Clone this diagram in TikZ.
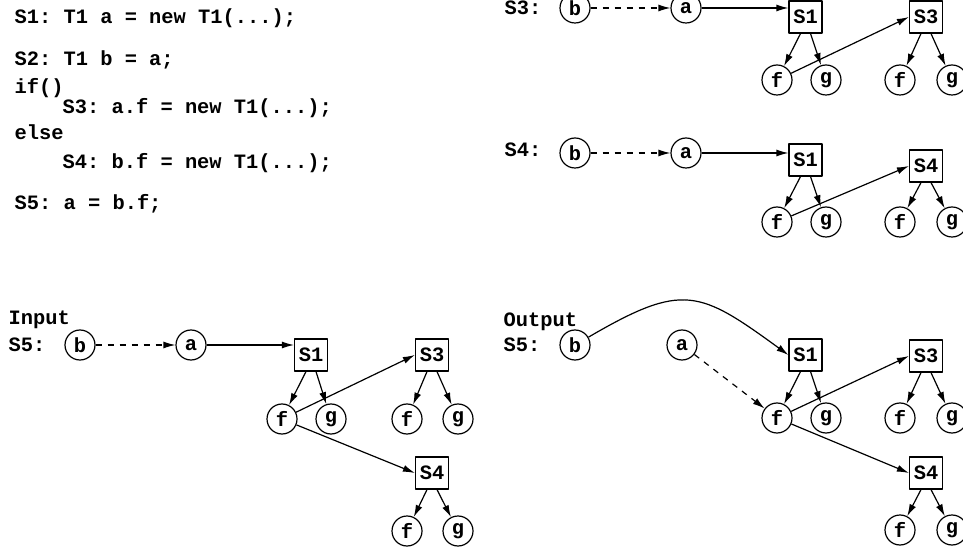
\documentclass[tikz,border=0pt]{standalone}
\usepackage{fontspec}
\setmonofont{Liberation Mono}
\usetikzlibrary{arrows.meta}
\tikzset{
  var/.style={draw, circle, minimum size=15pt, inner sep=0pt},
  obj/.style={draw, rectangle, minimum width=16.5pt, minimum height=16pt, inner sep=0pt},
  code/.style={anchor=base west, inner sep=0pt},
}
\begin{document}
\begin{tikzpicture}[x=0.5pt, y=-0.5pt, >={Latex[length=6pt,width=3.5pt]}, line width=0.6pt,
    font=\ttfamily\bfseries\fontsize{10.2}{12}\selectfont, line join=round]
  \useasboundingbox (0,0) rectangle (963,550);
  \clip (0,0) rectangle (963,550);
  % program
  \node[code] (l1) at (14,23.5) {S1: T1 a = new T1(...);};
  \node[code] (l2) at (14,65.5) {S2: T1 b = a;};
  \node[code] (l3) at (14,94) {if()};
  \node[code] (l4) at (62,114) {S3: a.f = new T1(...);};
  \node[code] (l5) at (14,140) {else};
  \node[code] (l6) at (62,168.5) {S4: b.f = new T1(...);};
  \node[code] (l7) at (14,210) {S5: a = b.f;};
  % after S3
  \node[code] (p3lab) at (504,14.5) {S3:};
  \node[var] (p3b) at (575,8) {b};
  \node[var] (p3a) at (686,8) {a};
  \node[obj] (p3s1) at (805.5,17) {S1};
  \node[obj] (p3s3) at (926,17) {S3};
  \node[var] (p3f1) at (777,80) {f};
  \node[var] (p3g1) at (826,80) {g};
  \node[var] (p3f3) at (900,80) {f};
  \node[var] (p3g3) at (952,80) {g};
  \draw[->,dashed] (p3b) -- (p3a);
  \draw[->] (p3a) -- (p3a -| p3s1.west);
  \draw[->] (p3f1) -- (p3s3.west);
  % after S4
  \node[code] (p4lab) at (504,157) {S4:};
  \node[var] (p4b) at (575,153) {b};
  \node[var] (p4a) at (686,153) {a};
  \node[obj] (p4s1) at (805.5,160) {S1};
  \node[obj] (p4s4) at (926,166) {S4};
  \node[var] (p4f1) at (777,222) {f};
  \node[var] (p4g1) at (826,222) {g};
  \node[var] (p4f4) at (900,222) {f};
  \node[var] (p4g4) at (952,222) {g};
  \draw[->,dashed] (p4b) -- (p4a);
  \draw[->] (p4a) -- (p4a -| p4s1.west);
  \draw[->] (p4f1) -- (p4s4.west);
  % input of S5
  \node[code] (inlab) at (8,325) {Input};
  \node[code] (inlab5) at (8,352) {S5:};
  \node[var] (inb) at (80,345) {b};
  \node[var] (ina) at (191,345) {a};
  \node[obj] (ins1) at (311,355) {S1};
  \node[obj] (ins3) at (432,355) {S3};
  \node[obj] (ins4) at (432,473) {S4};
  \node[var] (inf1) at (282,419) {f};
  \node[var] (ing1) at (331,419) {g};
  \node[var] (inf3) at (407,419) {f};
  \node[var] (ing3) at (458,419) {g};
  \node[var] (inf4) at (407,531) {f};
  \node[var] (ing4) at (458,531) {g};
  \draw[->,dashed] (inb) -- (ina);
  \draw[->] (ina) -- (ina -| ins1.west);
  \draw[->] (inf1) -- (ins3.west);
  \draw[->] (inf1) -- (ins4.west);
  % output of S5
  \node[code] (outlab) at (503,327) {Output};
  \node[code] (outlab5) at (503,352) {S5:};
  \node[var] (outb) at (575,345) {b};
  \node[var] (outa) at (682,345) {a};
  \node[obj] (outs1) at (805.5,355) {S1};
  \node[obj] (outs3) at (926,356) {S3};
  \node[obj] (outs4) at (926,473) {S4};
  \node[var] (outf1) at (777,418) {f};
  \node[var] (outg1) at (826,418) {g};
  \node[var] (outf3) at (900,418) {f};
  \node[var] (outg3) at (952,418) {g};
  \node[var] (outf4) at (900,530) {f};
  \node[var] (outg4) at (952,530) {g};
  \draw[->] (outb) .. controls (683,282) and (699,290) .. (outs1.west);
  \draw[->,dashed] (outa) -- (outf1);
  \draw[->] (outf1) -- (outs3.west);
  \draw[->] (outf1) -- (outs4.west);
  % fields of every object
  \foreach \o/\f/\g in {p3s1/p3f1/p3g1, p3s3/p3f3/p3g3, p4s1/p4f1/p4g1, p4s4/p4f4/p4g4,
      ins1/inf1/ing1, ins3/inf3/ing3, ins4/inf4/ing4,
      outs1/outf1/outg1, outs3/outf3/outg3, outs4/outf4/outg4}{
    \draw[->] ([xshift=-2.5pt]\o.south) -- (\f);
    \draw[->] ([xshift=2.5pt]\o.south) -- (\g);
  }
\end{tikzpicture}
\end{document}
